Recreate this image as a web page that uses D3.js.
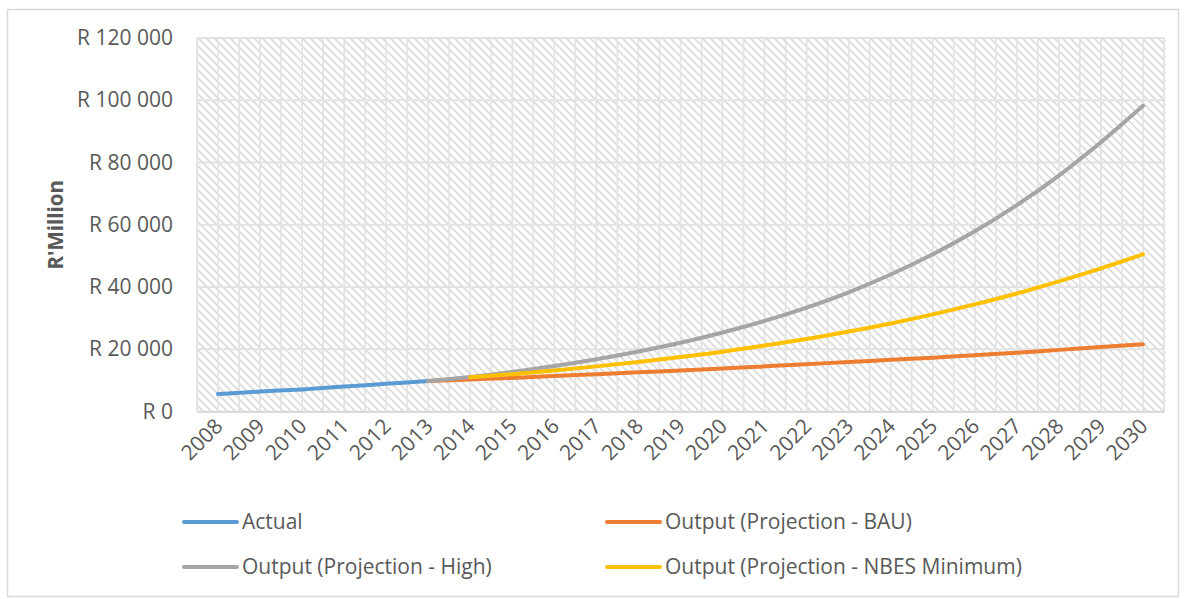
<!DOCTYPE html>
<html>
<head>
<meta charset="utf-8">
<script src="https://cdn.jsdelivr.net/npm/d3@7"></script>
<style>
  html, body { margin: 0; padding: 0; background: #fff; }
  svg { display: block; font-family: "Open Sans", "Noto Sans", sans-serif; }
</style>
</head>
<body>
<svg id="chart" width="1186" height="599"></svg>
<script>
// Categories (years) and series values, R'Million
const years = ["2008","2009","2010","2011","2012","2013","2014","2015","2016","2017","2018","2019",
               "2020","2021","2022","2023","2024","2025","2026","2027","2028","2029","2030"];

const actualYears = ["2008","2009","2010","2011","2012","2013"];
const actualValues = [5600, 6400, 7100, 8000, 8900, 9800];

const bauYears = ["2013","2014","2015","2016","2017","2018","2019","2020","2021","2022","2023","2024","2025","2026","2027","2028","2029","2030"];
const bauValues = [9800, 10300, 10800, 11400, 12000, 12600, 13200, 13800, 14500, 15200, 15900, 16600, 17300, 18100, 18900, 19800, 20700, 21600];

const highYears = bauYears;
const highValues = [9800, 11100, 12700, 14600, 16800, 19300, 22100, 25400, 29100, 33400, 38300, 44000, 50500, 57900, 66300, 75800, 86500, 98200];

const nbesYears = ["2014","2015","2016","2017","2018","2019","2020","2021","2022","2023","2024","2025","2026","2027","2028","2029","2030"];
const nbesValues = [11000, 12000, 13200, 14500, 15900, 17500, 19200, 21200, 23300, 25700, 28300, 31200, 34400, 37900, 41800, 46000, 50500];

const yTicks = [0, 20000, 40000, 60000, 80000, 100000, 120000];

const series = [
  { name: "Actual", years: actualYears, values: actualValues, color: "#5B9BD5" },
  { name: "Output (Projection - BAU)", years: bauYears, values: bauValues, color: "#ED7D31" },
  { name: "Output (Projection - High)", years: highYears, values: highValues, color: "#A5A5A5" },
  { name: "Output (Projection - NBES Minimum)", years: nbesYears, values: nbesValues, color: "#FFC000" }
];

const svg = d3.select("#chart");
const textColor = "#595959";

// Outer chart border
svg.append("rect")
  .attr("x", 7.5).attr("y", 9.5).attr("width", 1171).attr("height", 587)
  .attr("fill", "#fff").attr("stroke", "#D9D9D9").attr("stroke-width", 1.5);

const plot = { left: 197, right: 1164, top: 38, bottom: 411.5 };

const x = d3.scaleBand().domain(years).range([plot.left, plot.right]).padding(0);
const cx = d => x(d) + x.bandwidth() / 2;
const y = d3.scaleLinear().domain([0, 120000]).range([plot.bottom, plot.top]);

// Hatched plot-area fill (downward diagonal)
const defs = svg.append("defs");
const pat = defs.append("pattern")
  .attr("id", "hatch").attr("patternUnits", "userSpaceOnUse")
  .attr("width", 8).attr("height", 8);
pat.append("rect").attr("width", 8).attr("height", 8).attr("fill", "#fff");
pat.append("path")
  .attr("d", "M-2,-2 L10,10 M-2,6 L2,10 M6,-2 L10,2")
  .attr("stroke", "#DCDCDC").attr("stroke-width", 1.8);

svg.append("rect")
  .attr("x", plot.left).attr("y", plot.top)
  .attr("width", plot.right - plot.left).attr("height", plot.bottom - plot.top)
  .attr("fill", "url(#hatch)");

// Gridlines
const grid = svg.append("g").attr("stroke", "#E3E3E3").attr("stroke-width", 1.8);
const vLines = [];
years.forEach(yr => { vLines.push(x(yr)); vLines.push(cx(yr)); });
vLines.push(plot.right);
grid.selectAll("line.v").data(vLines).join("line")
  .attr("class", "v")
  .attr("x1", d => d).attr("x2", d => d)
  .attr("y1", plot.top).attr("y2", plot.bottom);
grid.selectAll("line.h").data(yTicks).join("line")
  .attr("class", "h")
  .attr("x1", plot.left).attr("x2", plot.right)
  .attr("y1", d => y(d)).attr("y2", d => y(d));

// Y axis
const locale = d3.formatLocale({ decimal: ".", thousands: " ", grouping: [3], currency: ["R ", ""] });
const fmt = locale.format("$,");
const yAxis = d3.axisLeft(y).tickValues(yTicks).tickFormat(fmt).tickSize(0).tickPadding(24);
const gy = svg.append("g").attr("transform", `translate(${plot.left},0)`).call(yAxis);
gy.select(".domain").remove();
gy.selectAll("text").attr("fill", textColor).style("font-size", "21px")
  .style("font-family", "'Open Sans', sans-serif");

// X axis
const xAxis = d3.axisBottom(x).tickSize(0).tickPadding(0);
const gx = svg.append("g").attr("transform", `translate(0,${plot.bottom})`).call(xAxis);
gx.select(".domain").attr("stroke", "#D9D9D9").attr("stroke-width", 1.8);
gx.selectAll("text")
  .attr("fill", textColor).style("font-size", "21px")
  .style("font-family", "'Open Sans', sans-serif")
  .attr("text-anchor", "end")
  .attr("dy", null)
  .attr("transform", "translate(6,16) rotate(-45)");

// Y axis title
svg.append("text")
  .attr("transform", `translate(63,${(plot.top + plot.bottom) / 2}) rotate(-90)`)
  .attr("text-anchor", "middle")
  .attr("fill", textColor).style("font-size", "20.5px").style("font-weight", "bold")
  .text("R'Million");

// Series lines
const line = d3.line().x(d => cx(d.year)).y(d => y(d.value)).curve(d3.curveMonotoneX);
series.forEach(s => {
  const pts = s.years.map((yr, i) => ({ year: yr, value: s.values[i] }));
  svg.append("path")
    .datum(pts)
    .attr("d", line)
    .attr("fill", "none")
    .attr("stroke", s.color)
    .attr("stroke-width", 4)
    .attr("stroke-linecap", "round")
    .attr("stroke-linejoin", "round");
});

// Legend (two columns, two rows)
const legendPos = [
  { x: 184, y: 522 }, { x: 607, y: 522 },
  { x: 184, y: 567 }, { x: 607, y: 567 }
];
series.forEach((s, i) => {
  const p = legendPos[i];
  const g = svg.append("g").attr("transform", `translate(${p.x},${p.y})`);
  g.append("line").attr("x1", 0).attr("x2", 53).attr("y1", 0).attr("y2", 0)
    .attr("stroke", s.color).attr("stroke-width", 4).attr("stroke-linecap", "round");
  g.append("text").attr("x", 58).attr("y", 0).attr("dy", "0.35em")
    .attr("fill", textColor).style("font-size", "21px").text(s.name);
});
</script>
</body>
</html>
